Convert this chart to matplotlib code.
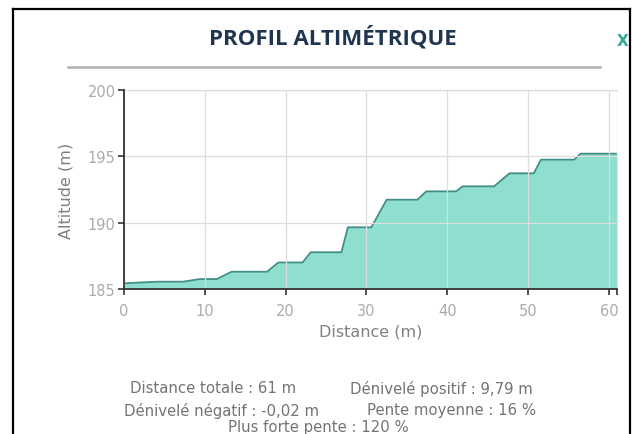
import matplotlib
matplotlib.use("Agg")
import matplotlib.pyplot as plt
from matplotlib.lines import Line2D

distance = [0, 4.1, 7.3, 9.4, 11.5, 13.3, 17.7, 19.1, 22.1, 23.1, 26.9, 27.7,
            30.6, 32.5, 36.3, 37.4, 41.1, 41.9, 45.8, 47.7, 50.7, 51.6, 55.7,
            56.5, 61]
altitude = [185.43, 185.55, 185.55, 185.75, 185.75, 186.3, 186.3, 187.0, 187.0,
            187.77, 187.77, 189.65, 189.65, 191.73, 191.73, 192.36, 192.36,
            192.74, 192.74, 193.72, 193.72, 194.75, 194.75, 195.2, 195.2]
x_ticks = [0, 10, 20, 30, 40, 50, 60, 61]
x_tick_labels = ["0", "10", "20", "30", "40", "50", "60", ""]
y_ticks = [185, 190, 195, 200]

title = "PROFIL ALTIMÉTRIQUE"
stats = [("Distance totale : 61 m", "Dénivelé positif : 9,79 m"),
         ("Dénivelé négatif : -0,02 m", "Pente moyenne : 16 %")]
last_line = "Plus forte pente : 120 %"

W, H = 632, 435
fig = plt.figure(figsize=(W / 100, H / 100), dpi=100)

def fx(px):
    return px / W

def fy(py):
    return 1 - py / H

# outer frame
fig.add_artist(Line2D([fx(13), fx(13)], [fy(10), 0], color="black", lw=1.6))
fig.add_artist(Line2D([fx(13), fx(630)], [fy(10), fy(10)], color="black", lw=1.6))
fig.add_artist(Line2D([fx(630), fx(630)], [fy(10), 0], color="black", lw=1.6))

# title and separator
fig.text(fx(333), fy(38), title, ha="center", va="center", fontsize=16,
         fontweight="bold", color="#1f3550", family="Open Sans")
fig.add_artist(Line2D([fx(68), fx(600)], [fy(68), fy(68)], color="#b0b0b0", lw=1.8))
fig.text(fx(628), fy(42), "X", ha="right", va="center", fontsize=11,
         fontweight="bold", color="#2aa89a")

ax = fig.add_axes([fx(124), fy(290), fx(617) - fx(124), fy(91) - fy(290)])
ax.fill_between(distance, altitude, 185, color="#8fdfd0", lw=0)
ax.plot(distance, altitude, color="#3f8f86", lw=1.3)
ax.set_xlim(0, 61)
ax.set_ylim(185, 200)
ax.set_xticks(x_ticks)
ax.set_xticklabels(x_tick_labels)
ax.set_yticks(y_ticks)
ax.grid(True, color="#dcdcdc", lw=0.9)
ax.set_axisbelow(False)
for s in ["top", "right"]:
    ax.spines[s].set_visible(False)
for s in ["left", "bottom"]:
    ax.spines[s].set_color("#333333")
    ax.spines[s].set_linewidth(1.3)
    ax.spines[s].set_zorder(5)
ax.tick_params(axis="both", colors="#333333", labelcolor="#ababab",
               labelsize=10.5, length=4, width=1.2)
ax.tick_params(axis="y", pad=2)
ax.tick_params(axis="x", pad=6)
ax.set_xlabel("Distance (m)", color="#808080", fontsize=11.5, labelpad=4)
ax.set_ylabel("Altitude (m)", color="#808080", fontsize=11.5, labelpad=10)
ax.axhline(200, color="#dcdcdc", lw=0.9, clip_on=False)

# statistics text
sc = "#737373"
fs = 10.7
fig.text(fx(213), fy(389), stats[0][0], ha="center", va="center", fontsize=fs, color=sc)
fig.text(fx(441), fy(389), stats[0][1], ha="center", va="center", fontsize=fs, color=sc)
fig.text(fx(222), fy(411), stats[1][0], ha="center", va="center", fontsize=fs, color=sc)
fig.text(fx(452), fy(411), stats[1][1], ha="center", va="center", fontsize=fs, color=sc)
fig.text(fx(318), fy(428), last_line, ha="center", va="center", fontsize=fs, color=sc)

fig.savefig("out.png", dpi=100)
